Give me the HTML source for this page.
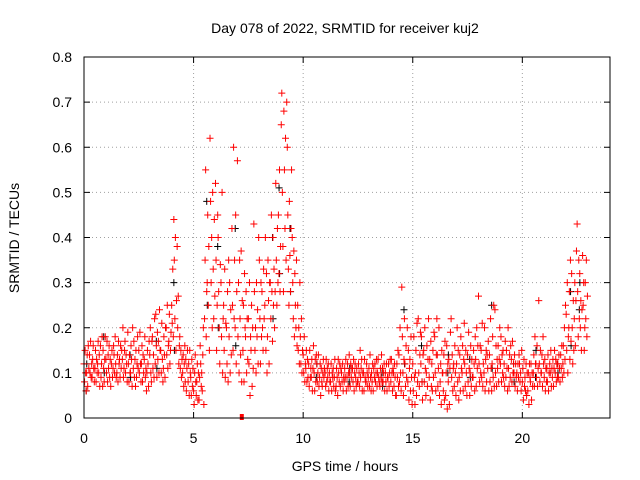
<!DOCTYPE html>
<html><head><meta charset="utf-8"><style>
body{margin:0;background:#fff}
svg{display:block;font-family:"Liberation Sans",sans-serif}
</style></head><body>
<svg id="chart" width="640" height="480" xmlns="http://www.w3.org/2000/svg">
<rect width="640" height="480" fill="#fff"/>
<text x="345" y="33" font-size="14" text-anchor="middle">Day 078 of 2022, SRMTID for receiver kuj2</text>
<text x="345" y="471" font-size="14" text-anchor="middle">GPS time / hours</text>
<text x="19" y="238" font-size="14" text-anchor="middle" transform="rotate(-90 19 238)">SRMTID / TECUs</text>
<g id="grid"></g><g id="axes"></g><g id="black"></g><g id="red"></g>
<rect x="84" y="57" width="526" height="361" fill="none" stroke="#000"/>
</svg>
<script>
const xTicks=[0,5,10,15,20];
const yTicks=[0,0.1,0.2,0.3,0.4,0.5,0.6,0.7,0.8];
const yTickLabels=["0","0.1","0.2","0.3","0.4","0.5","0.6","0.7","0.8"];
const redRows=[
[0,.12,.08,.15,.10,.06],[0.25,.14,.10,.17,.09,.12],[0.5,.11,.15,.08,.13,.10],[0.75,.16,.09,.12,.18,.07],
[1,.13,.10,.17,.08,.14],[1.25,.12,.15,.09,.11,.16],[1.5,.10,.14,.08,.17,.12],[1.75,.13,.20,.09,.11,.15],
[2,.19,.12,.08,.14,.10],[2.25,.11,.17,.09,.13,.07],[2.5,.15,.10,.19,.12,.08],[2.75,.13,.18,.09,.11,.06],
[3,.14,.20,.10,.08,.17],[3.25,.12,.23,.16,.09,.19],[3.5,.15,.10,.21,.13,.08],[3.75,.20,.14,.25,.11,.16],
[4,.25,.21,.33,.18,.44],[4.25,.38,.20,.27,.12,.16],[4.5,.10,.14,.07,.12,.16],[4.75,.08,.12,.05,.15,.10],
[5,.06,.03,.10,.14,.08],[5.25,.04,.09,.16,.12,.07],[5.5,.22,.35,.55,.18,.28],[5.75,.62,.48,.30,.40,.20],
[6,.52,.35,.15,.25,.45],[6.25,.30,.18,.50,.10,.22],[6.5,.20,.12,.28,.08,.35],[6.75,.42,.25,.15,.60,.22],
[7,.57,.18,.30,.10,.35],[7.25,.15,.25,.08,.32,.20],[7.5,.22,.12,.30,.05,.18],[7.75,.43,.28,.15,.20,.10],
[8,.35,.22,.12,.30,.18],[8.25,.25,.40,.15,.32,.10],[8.5,.30,.22,.45,.28,.17],[8.75,.52,.35,.25,.42,.30],
[9,.65,.72,.50,.38,.28],[9.25,.70,.60,.45,.33,.25],[9.5,.40,.30,.22,.37,.18],[9.75,.25,.15,.20,.12,.30],
[10,.14,.10,.18,.08,.12],[10.25,.12,.07,.15,.09,.11],[10.5,.10,.06,.13,.08,.14],[10.75,.09,.12,.05,.11,.08],
[11,.10,.07,.13,.08,.11],[11.25,.08,.12,.06,.10,.09],[11.5,.07,.11,.09,.05,.13],[11.75,.10,.08,.12,.06,.09],
[12,.09,.12,.07,.10,.14],[12.25,.11,.08,.13,.06,.10],[12.5,.08,.12,.10,.07,.15],[12.75,.10,.06,.13,.09,.08],
[13,.11,.07,.14,.09,.06],[13.25,.09,.12,.08,.10,.13],[13.5,.07,.11,.09,.14,.08],[13.75,.10,.08,.12,.06,.09],
[14,.08,.13,.10,.06,.11],[14.25,.05,.12,.09,.15,.07],[14.5,.29,.18,.10,.05,.13],[14.75,.20,.08,.15,.04,.11],
[15,.12,.06,.18,.09,.03],[15.25,.22,.10,.07,.14,.19],[15.5,.15,.08,.20,.11,.05],[15.75,.09,.13,.04,.17,.07],
[16,.18,.10,.06,.14,.22],[16.25,.08,.12,.03,.15,.10],[16.5,.05,.10,.16,.02,.12],[16.75,.22,.09,.14,.06,.11],
[17,.12,.20,.08,.15,.04],[17.25,.10,.16,.06,.13,.21],[17.5,.14,.08,.19,.11,.05],[17.75,.09,.15,.12,.06,.18],
[18,.27,.12,.08,.16,.10],[18.25,.10,.20,.06,.13,.15],[18.5,.14,.08,.22,.11,.06],[18.75,.24,.10,.16,.07,.13],
[19,.12,.18,.08,.14,.10],[19.25,.09,.15,.11,.06,.20],[19.5,.13,.08,.17,.10,.12],[19.75,.10,.06,.12,.09,.14],
[20,.08,.11,.04,.13,.07],[20.25,.06,.10,.03,.12,.09],[20.5,.10,.14,.07,.18,.12],[20.75,.26,.12,.08,.15,.10],
[21,.09,.13,.06,.11,.08],[21.25,.12,.10,.15,.07,.11],[21.5,.10,.13,.08,.12,.09],[21.75,.14,.11,.16,.09,.12],
[22,.23,.15,.30,.10,.18],[22.25,.32,.20,.12,.26,.15],[22.5,.43,.28,.18,.35,.22],[22.75,.36,.25,.30,.15,.20]];
const redRows2=[
[0.12,.10,.14,.07,.16,.11],[0.37,.09,.13,.16,.11,.08],[0.62,.12,.17,.10,.14,.07],[0.87,.15,.11,.08,.13,.18],
[1.12,.11,.16,.09,.13,.07],[1.37,.14,.10,.18,.12,.09],[1.62,.13,.09,.16,.11,.15],[1.87,.17,.10,.14,.12,.08],
[2.12,.10,.16,.13,.07,.20],[2.37,.15,.09,.12,.18,.11],[2.62,.12,.16,.08,.14,.10],[2.87,.10,.15,.12,.07,.17],
[3.12,.18,.11,.14,.09,.22],[3.37,.13,.17,.10,.24,.15],[3.62,.11,.18,.14,.09,.20],[3.87,.17,.23,.12,.15,.19],
[4.12,.35,.22,.40,.15,.26],[4.37,.18,.11,.15,.09,.13],[4.62,.08,.13,.06,.11,.15],[4.87,.09,.05,.13,.07,.11],
[5.12,.05,.08,.12,.04,.10],[5.37,.10,.06,.14,.20,.03],[5.62,.30,.45,.25,.38,.15],[5.87,.50,.33,.22,.44,.27],
[6.12,.40,.28,.20,.12,.34],[6.37,.25,.15,.33,.09,.21],[6.62,.18,.30,.10,.24,.14],[6.87,.35,.20,.45,.12,.28],
[7.12,.22,.14,.37,.08,.26],[7.37,.18,.28,.10,.22,.13],[7.62,.15,.25,.07,.20,.11],[7.87,.30,.18,.24,.12,.40],
[8.12,.28,.20,.15,.33,.22],[8.37,.18,.35,.26,.12,.30],[8.62,.40,.25,.33,.20,.28],[8.87,.45,.32,.55,.28,.38],
[9.12,.68,.55,.42,.62,.35],[9.37,.48,.36,.28,.42,.55],[9.62,.32,.25,.20,.35,.16],[9.87,.18,.12,.22,.10,.15],
[10.12,.11,.15,.08,.13,.09],[10.37,.09,.13,.06,.11,.16],[10.62,.12,.08,.10,.14,.07],[10.87,.07,.10,.13,.09,.11],
[11.12,.09,.12,.06,.10,.08],[11.37,.11,.07,.09,.13,.06],[11.62,.10,.08,.12,.07,.11],[11.87,.08,.11,.09,.13,.06],
[12.12,.10,.07,.12,.09,.11],[12.37,.12,.09,.07,.11,.08],[12.62,.09,.11,.13,.06,.10],[12.87,.08,.12,.10,.07,.09],
[13.12,.10,.08,.12,.06,.11],[13.37,.07,.10,.13,.09,.08],[13.62,.11,.08,.10,.12,.06],[13.87,.09,.12,.07,.10,.13],
[14.12,.10,.07,.12,.09,.05],[14.37,.14,.08,.20,.10,.06],[14.62,.22,.12,.07,.16,.09],[14.87,.13,.06,.18,.09,.03],
[15.12,.10,.15,.05,.21,.08],[15.37,.12,.18,.08,.04,.14],[15.62,.10,.16,.07,.13,.22],[15.87,.12,.06,.15,.09,.19],
[16.12,.14,.07,.11,.20,.05],[16.37,.10,.06,.14,.04,.17],[16.62,.08,.13,.03,.11,.19],[16.87,.12,.07,.16,.10,.05],
[17.12,.09,.14,.06,.18,.11],[17.37,.12,.07,.15,.10,.05],[17.62,.10,.16,.07,.13,.09],[17.87,.13,.07,.20,.11,.16],
[18.12,.15,.09,.21,.07,.12],[18.37,.08,.14,.11,.17,.06],[18.62,.12,.18,.09,.25,.07],[18.87,.11,.16,.08,.13,.20],
[19.12,.15,.09,.12,.07,.17],[19.37,.11,.07,.14,.09,.16],[19.62,.10,.14,.07,.12,.09],[19.87,.12,.08,.10,.06,.15],
[20.12,.09,.06,.12,.05,.10],[20.37,.08,.12,.04,.10,.07],[20.62,.12,.09,.16,.07,.11],[20.87,.10,.14,.07,.18,.12],
[21.12,.11,.08,.14,.06,.10],[21.37,.09,.13,.07,.11,.15],[21.62,.12,.09,.14,.11,.08],[21.87,.16,.10,.20,.13,.25],
[22.12,.20,.28,.13,.35,.17],[22.37,.22,.30,.16,.26,.37],[22.62,.32,.20,.26,.15,.24],[22.87,.30,.22,.35,.18,.27]];
const blackRows=[
[0.1,.06,.12],[0.9,.18,.10],[2.1,.14,.09],[3.3,.17,.11],[4.1,.30,.15],[5.6,.48,.25],[6.1,.38,.20],
[6.9,.42,.16],[8.6,.40,.22],[8.9,.51,.32],[9.4,.42,.28],[10.6,.09,.12],[12.1,.08,.11],[13.6,.10,.07],
[14.6,.24,.12],[15.4,.16,.08],[16.6,.10,.14],[17.6,.13,.09],[18.6,.25,.11],[19.6,.12,.08],[20.6,.09,.15],
[21.6,.12,.10],[22.2,.28,.16],[22.6,.24,.30]];
const X0=84,XW=526,XMAX=24,Y0=418,YH=361,YMAX=0.8;
const sx=t=>X0+t/XMAX*XW, sy=v=>Y0-v/YMAX*YH;
const NS="http://www.w3.org/2000/svg";
function mk(tag,attrs,parent){const e=document.createElementNS(NS,tag);for(const k in attrs)e.setAttribute(k,attrs[k]);parent.appendChild(e);return e;}
const grid=document.getElementById('grid'),axes=document.getElementById('axes');
xTicks.forEach(t=>{
 const x=sx(t);
 if(t>0){const g=mk('line',{x1:x,x2:x,y1:57,y2:418,stroke:'#a0a0a0','stroke-dasharray':'1,3'},grid);
 
 }
 mk('line',{x1:x,x2:x,y1:418,y2:412,stroke:'#000'},axes);
 mk('line',{x1:x,x2:x,y1:57,y2:63,stroke:'#000'},axes);
 const l=mk('text',{x:x,y:443,'font-size':14,'text-anchor':'middle'},axes);l.textContent=t;
 
 
});
yTicks.forEach((v,i)=>{
 const y=sy(v);
 if(v>0&&v<YMAX){const g=mk('line',{x1:84,x2:610,y1:y,y2:y,stroke:'#a0a0a0','stroke-dasharray':'1,3'},grid);
 
 }
 mk('line',{x1:84,x2:90,y1:y,y2:y,stroke:'#000'},axes);
 mk('line',{x1:604,x2:610,y1:y,y2:y,stroke:'#000'},axes);
 const l=mk('text',{x:72,y:y+5,'font-size':14,'text-anchor':'end'},axes);l.textContent=yTickLabels[i];
 
 
});
function plot(rows,gid,color,name){
 const g=document.getElementById(gid);
 rows.forEach(r=>{
  for(let k=1;k<r.length;k++){
   const x=sx(r[0]+(k-1)*0.025),y=sy(r[k]);
   const p=mk('path',{d:`M${x-3.5},${y}h7M${x},${y-3.5}v7`,stroke:color,'stroke-width':1,fill:'none'},g);
   
   
  }
 });
}
plot(blackRows,'black','#000','black-point');
plot(redRows,'red','#ff0000','red-point');
plot(redRows2,'red','#ff0000','red-point');
const sq=mk('rect',{x:sx(7.2)-2,y:414,width:4,height:6,fill:'#ff0000'},document.getElementById('red'));


</script>
</body></html>
